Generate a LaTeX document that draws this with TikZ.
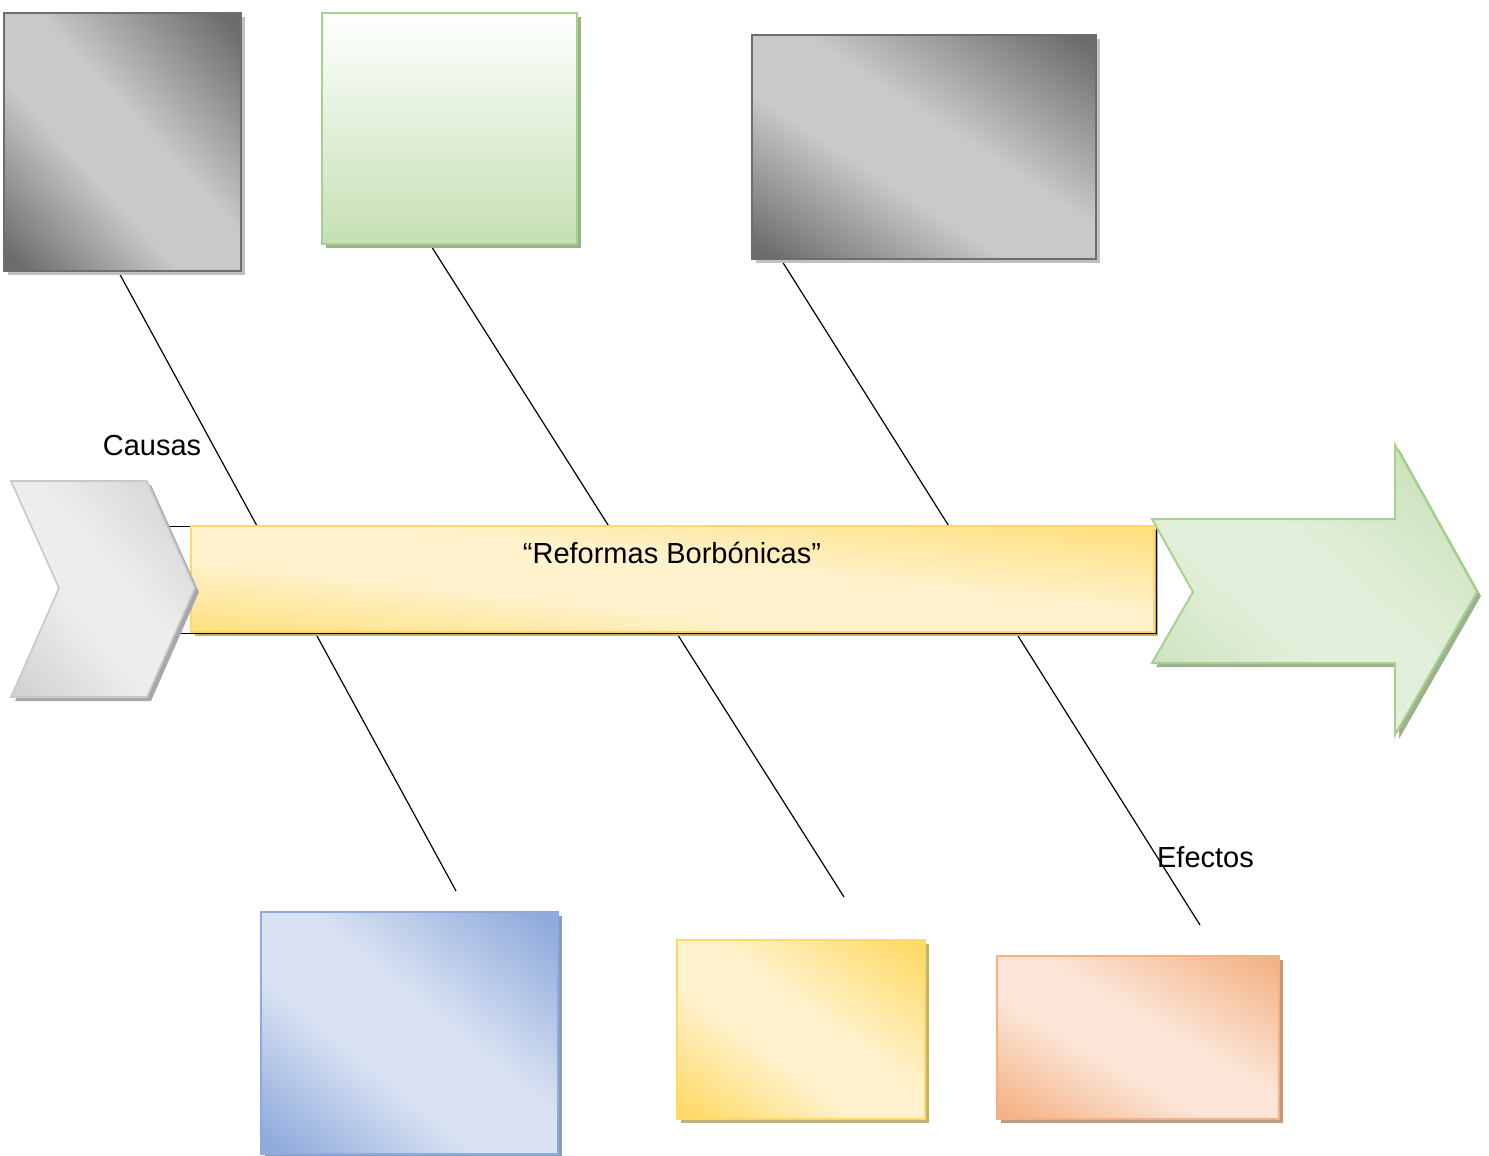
\documentclass[tikz,border=0pt]{standalone}
\usepackage{fontspec}
\setmainfont{Liberation Sans}
\usetikzlibrary{shadows,backgrounds}

\definecolor{grayhi}{HTML}{C9C9C9}
\definecolor{graylo}{HTML}{6B6B6B}
\definecolor{grayline}{HTML}{6E6E6E}
\definecolor{grayshadow}{HTML}{C0C0C0}
\definecolor{greenhi}{HTML}{E2EFDA}
\definecolor{greenlo}{HTML}{C5E0B4}
\definecolor{greenline}{HTML}{A9D18E}
\definecolor{greenshadow}{HTML}{9DB08F}
\definecolor{bluehi}{HTML}{DAE3F3}
\definecolor{bluelo}{HTML}{8FAADC}
\definecolor{blueshadow}{HTML}{8C9AB6}
\definecolor{yellowhi}{HTML}{FFF2CC}
\definecolor{yellowlo}{HTML}{FFD966}
\definecolor{yellowshadow}{HTML}{BFB27A}
\definecolor{orangehi}{HTML}{FBE5D6}
\definecolor{orangelo}{HTML}{F4B183}
\definecolor{orangeshadow}{HTML}{C09A83}
\definecolor{silverhi}{HTML}{EDEDED}
\definecolor{silverlo}{HTML}{D2D2D2}
\definecolor{silverline}{HTML}{C8C8C8}
\definecolor{silvershadow}{HTML}{A8A8A8}

\pgfdeclareverticalshading[shdark,shlight]{glossy}{100bp}{%
  color(0bp)=(shdark); color(17bp)=(shdark); color(41bp)=(shlight);
  color(55bp)=(shlight); color(83bp)=(shdark); color(100bp)=(shdark)}

\begin{document}
\begin{tikzpicture}[x=1pt, y=-1pt,
  gloss/.style n args = {3}{/utils/exec={\colorlet{shdark}{#1}\colorlet{shlight}{#2}},
    shade, shading=glossy, shading angle=#3},
  shadowed/.style = {drop shadow={shadow xshift=4pt, shadow yshift=-4pt,
    fill=#1, opacity=1}},
  panel/.style = {rectangle, inner sep=0pt, line width=1.6pt},
  graybox/.style = {panel, draw=grayline, gloss={graylo}{grayhi}{#1}, shadowed=grayshadow},
  greenbox/.style = {panel, draw=greenline, line width=2pt,
    top color=white, bottom color=greenlo, shadowed=greenshadow},
  bluebox/.style = {panel, draw=bluelo, gloss={bluelo}{bluehi}{#1}, shadowed=blueshadow},
  yellowbox/.style = {panel, draw=yellowlo, gloss={yellowlo}{yellowhi}{#1}, shadowed=yellowshadow},
  orangebox/.style = {panel, draw=orangelo, gloss={orangelo}{orangehi}{#1}, shadowed=orangeshadow},
  tail/.style = {draw=silverline, line width=1.6pt, gloss={silverlo}{silverhi}{-49.6},
    shadowed=silvershadow},
  head/.style = {draw=greenline, line width=2pt, gloss={greenlo}{greenhi}{-41.7},
    shadowed=greenshadow},
  bone/.style = {line width=1.2pt},
  lbl/.style = {inner sep=0pt, font=\fontsize{29}{34}\selectfont}]
\useasboundingbox (0,0) rectangle (1489,1156);

\node[graybox=-47.4, minimum width=237, minimum height=258] (causeA) at (122.5,142) {};
\node[greenbox, minimum width=255, minimum height=231] (causeB) at (449.5,128.5) {};
\node[graybox=-33.1, minimum width=344, minimum height=224] (causeC) at (924,147) {};
\node[bluebox=-39.2, minimum width=297, minimum height=242] (effectA) at (409.5,1033) {};
\node[yellowbox=-35.8, minimum width=248, minimum height=179] (effectB) at (801,1029.5) {};
\node[orangebox=-30, minimum width=282, minimum height=163] (effectC) at (1138,1037.5) {};

\coordinate (tailT) at (167,526.5);
\coordinate (tailB) at (175,633.5);

\node[yellowbox=-6.3, minimum width=963, minimum height=106] (spine) at (672.5,579) {};
\node[lbl] (title) at (672,553) {“Reformas Borbónicas”};
\draw[bone] (tailB) -| ([xshift=1.5pt]spine.north east);

\draw[tail] (11,481) -- (147,481) -- (195,588) -- (147,697) -- (11,697) -- (59,588) -- cycle;
\draw[head] (1152,519) -- (1395,519) -- (1395,445) -- (1477,592) -- (1395,735)
  -- (1395,663) -- (1152,663) -- (1193,592) -- cycle;

\node[lbl] (causas) at (152,446) {Causas};
\node[lbl] (efectos) at (1205.5,857) {Efectos};

\coordinate (endA) at (456,891);
\coordinate (endB) at (844,897);
\coordinate (endC) at (1200,925);

\begin{pgfonlayer}{background}
\draw[bone] ([xshift=-4pt]causeA.south) -- (endA);
\draw[bone] ([xshift=-19pt]causeB.south) -- (endB);
\draw[bone] ([xshift=30pt]causeC.south west) -- (endC);
\draw[bone] (tailT) -- (tailT -| spine.west);
\end{pgfonlayer}
\end{tikzpicture}
\end{document}
